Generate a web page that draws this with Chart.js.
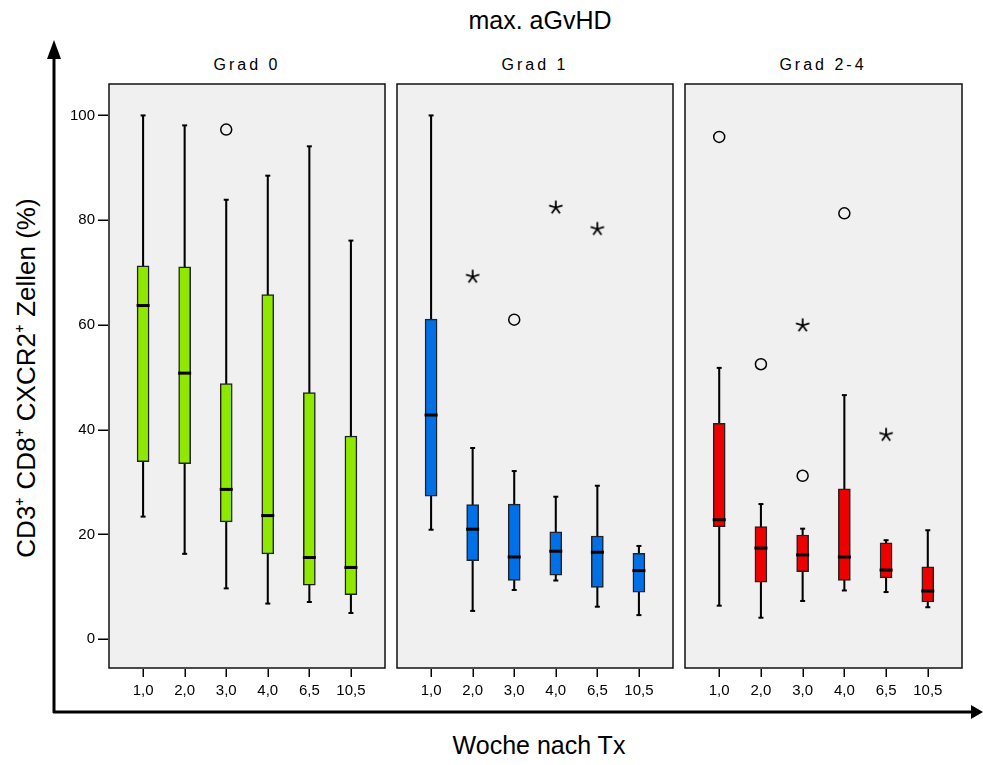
<!DOCTYPE html>
<html>
<head>
<meta charset="utf-8">
<script src="https://cdn.jsdelivr.net/npm/chart.js@4"></script>
<style>
  html, body { margin: 0; padding: 0; background: #fff; }
  body { width: 983px; height: 765px; position: relative; overflow: hidden; font-family: "Liberation Sans", Arial, Helvetica, sans-serif; }
  .cv { position: absolute; }
  .txt { position: absolute; color: #000; white-space: nowrap; }
  #title { left: 0; width: 1080px; top: 6px; text-align: center; font-size: 25px; }
  .ptitle { top: 56px; width: 276px; text-align: center; font-size: 16px; letter-spacing: 3px; }
  #xlabel { left: 0; width: 1078px; top: 731px; text-align: center; font-size: 25px; }
  #ylabel { left: 25px; top: 378px; font-size: 26px; transform: translate(-50%, -50%) rotate(-90deg); }
  svg { position: absolute; left: 0; top: 0; }
</style>
</head>
<body>
<div id="title" class="txt">max. aGvHD</div>
<div class="txt ptitle" style="left:109px">Grad 0</div>
<div class="txt ptitle" style="left:397px">Grad 1</div>
<div class="txt ptitle" style="left:685px">Grad 2-4</div>
<div id="xlabel" class="txt">Woche nach Tx</div>
<div id="ylabel" class="txt">CD3⁺ CD8⁺ CXCR2⁺ Zellen (%)</div>

<div class="cv" style="left:40px;top:74px;width:347px;height:630px"><canvas id="c0"></canvas></div>
<div class="cv" style="left:395px;top:74px;width:280px;height:630px"><canvas id="c1"></canvas></div>
<div class="cv" style="left:683px;top:74px;width:281px;height:630px"><canvas id="c2"></canvas></div>

<svg width="983" height="765">
  <line x1="54" y1="56" x2="54" y2="713" stroke="#000" stroke-width="3"/>
  <polygon points="54,40 47,59 61,59" fill="#000"/>
  <line x1="53" y1="712" x2="974" y2="712" stroke="#000" stroke-width="3"/>
  <polygon points="983,712 971,705 971,719" fill="#000"/>
</svg>

<script>
// ---- data ----
const categories = ['1,0', '2,0', '3,0', '4,0', '6,5', '10,5'];
const panelTitles = ['Grad 0', 'Grad 1', 'Grad 2-4'];
const yTickValues = [0, 20, 40, 60, 80, 100];

const grad0Min    = [23.4, 16.3, 9.7, 6.8, 7.1, 5.0];
const grad0Q1     = [33.9, 33.5, 22.4, 16.3, 10.3, 8.5];
const grad0Median = [63.7, 50.8, 28.6, 23.6, 15.6, 13.7];
const grad0Q3     = [71.3, 71.1, 48.8, 65.8, 47.1, 38.8];
const grad0Max    = [100, 98.1, 83.9, 88.5, 94.1, 76.1];
const grad0Circles = [[3, 97.3]];
const grad0Stars   = [];

const grad1Min    = [20.9, 5.4, 9.4, 11.2, 6.2, 4.6];
const grad1Q1     = [27.3, 15.0, 11.2, 12.2, 9.9, 9.0];
const grad1Median = [42.8, 21.0, 15.7, 16.8, 16.6, 13.1];
const grad1Q3     = [61.1, 25.7, 25.8, 20.5, 19.7, 16.4];
const grad1Max    = [100, 36.5, 32.1, 27.2, 29.3, 17.8];
const grad1Circles = [[3, 61.0]];
const grad1Stars   = [[2, 69.3], [4, 82.5], [5, 78.4]];

const grad2Min    = [6.4, 4.1, 7.3, 9.3, 9.0, 6.1];
const grad2Q1     = [21.5, 10.9, 12.9, 11.2, 11.7, 7.1];
const grad2Median = [22.8, 17.4, 16.1, 15.7, 13.2, 9.2];
const grad2Q3     = [41.2, 21.5, 19.9, 28.7, 18.4, 13.8];
const grad2Max    = [51.8, 25.8, 21.1, 46.6, 18.9, 20.8];
const grad2Circles = [[1, 95.9], [2, 52.5], [3, 31.2], [4, 81.3]];
const grad2Stars   = [[3, 60.0], [5, 39.1]];

const panelColors = ['#8ee800', '#0070e8', '#ee0000'];

// ---- helpers ----
function makeStar() {
  const c = document.createElement('canvas');
  c.width = 16; c.height = 16;
  const g = c.getContext('2d');
  g.strokeStyle = '#000'; g.lineWidth = 1.8;
  g.beginPath();
  for (let k = 0; k < 5; k++) {
    const a = -Math.PI / 2 + k * 2 * Math.PI / 5;
    g.moveTo(8, 8.5);
    g.lineTo(8 + 7 * Math.cos(a), 8.5 + 7 * Math.sin(a));
  }
  g.stroke();
  return c;
}
const starImg = makeStar();

function drawTickMarks(chart) {
  const a = chart.chartArea, ctx = chart.ctx;
  const sx = chart.scales.x, sy = chart.scales.y;
  ctx.save();
  ctx.setLineDash([]);
  ctx.globalAlpha = 1;
  ctx.strokeStyle = '#000';
  ctx.lineWidth = 1.5;
  ctx.beginPath();
  sx.ticks.forEach(t => {
    const px = Math.round(sx.getPixelForValue(t.value)) + 0.25;
    ctx.moveTo(px, a.bottom + 1); ctx.lineTo(px, a.bottom + 9);
  });
  if (sy.options.display) {
    sy.ticks.forEach(t => {
      const py = Math.round(sy.getPixelForValue(t.value)) + 0.25;
      ctx.moveTo(a.left - 11, py); ctx.lineTo(a.left - 1, py);
    });
  }
  ctx.stroke();
  ctx.restore();
}

const panelBg = {
  id: 'panelBg',
  beforeDraw(chart) {
    // drop any canvas state left over, so nothing stays clipped
    const ctx = chart.ctx;
    for (let i = 0; i < 60; i++) ctx.restore();
    ctx.save();
    ctx.setTransform(1, 0, 0, 1, 0, 0);
    ctx.clearRect(0, 0, chart.canvas.width, chart.canvas.height);
    ctx.restore();
  },
  beforeDatasetsDraw(chart) {
    const a = chart.chartArea, ctx = chart.ctx;
    ctx.save();
    ctx.fillStyle = '#f0f0f0';
    ctx.fillRect(a.left, a.top, a.right - a.left, a.bottom - a.top);
    ctx.strokeStyle = '#111';
    ctx.lineWidth = 1.5;
    ctx.strokeRect(a.left, a.top, a.right - a.left, a.bottom - a.top);
    ctx.restore();
    drawTickMarks(chart);
  }
};

function buildPanel(id, mins, q1s, meds, q3s, maxs, circles, stars, color, showY, padLeft, padRight) {
  const xs = categories.map((_, i) => i + 1);
  const ds = [
    { type: 'bar', order: 10, grouped: false, data: xs.map((x, i) => ({ x, y: [mins[i], maxs[i]] })),
      backgroundColor: '#000', borderWidth: 0, barThickness: 1.4 },
    { type: 'bar', order: 9, grouped: false, data: xs.map((x, i) => ({ x, y: [q1s[i], q3s[i]] })),
      backgroundColor: color, borderColor: '#222', borderWidth: 1.5, borderSkipped: false, barThickness: 12 },
    { type: 'scatter', order: 3, data: xs.map((x, i) => ({ x, y: mins[i] })),
      pointStyle: 'line', radius: 2.5, borderWidth: 2, borderColor: '#000' },
    { type: 'scatter', order: 3, data: xs.map((x, i) => ({ x, y: maxs[i] })),
      pointStyle: 'line', radius: 2.5, borderWidth: 2, borderColor: '#000' },
    { type: 'scatter', order: 2, data: xs.map((x, i) => ({ x, y: meds[i] })),
      pointStyle: 'line', radius: 6.5, borderWidth: 3, borderColor: '#000' },
    { type: 'scatter', order: 1, data: circles.map(p => ({ x: p[0], y: p[1] })),
      pointStyle: 'circle', radius: 5.5, borderWidth: 1.5, borderColor: '#000', backgroundColor: 'rgba(0,0,0,0)' },
    { type: 'scatter', order: 1, data: stars.map(p => ({ x: p[0], y: p[1] })),
      pointStyle: starImg, radius: 7 }
  ];
  return new Chart(document.getElementById(id), {
    type: 'bar',
    data: { datasets: ds },
    plugins: [panelBg],
    options: {
      responsive: true, maintainAspectRatio: false, animation: false,
      events: [],
      layout: { autoPadding: false, padding: { top: 10, left: padLeft, right: padRight, bottom: 0 } },
      plugins: { legend: { display: false }, tooltip: { enabled: false }, title: { display: false } },
      scales: {
        x: {
          type: 'linear', min: 0.18, max: 6.82, offset: false,
          afterBuildTicks: s => { s.ticks = xs.map(v => ({ value: v })); },
          afterFit: s => { s.height = 36; s.paddingLeft = 0; s.paddingRight = 0; },
          grid: { display: false, drawOnChartArea: false, drawTicks: false },
          border: { display: false },
          ticks: { padding: 14, color: '#000', font: { family: 'Liberation Sans, Arial', size: 15 },
            callback: v => categories[Math.round(v) - 1], maxRotation: 0, autoSkip: false }
        },
        y: {
          type: 'linear', min: -5.5, max: 106, display: showY,
          afterBuildTicks: s => { s.ticks = yTickValues.map(v => ({ value: v })); },
          afterFit: s => { if (showY) s.width = 69; s.paddingTop = 0; s.paddingBottom = 0; },
          grid: { display: false, drawOnChartArea: false, drawTicks: false },
          border: { display: false },
          ticks: { padding: 14, color: '#000', font: { family: 'Liberation Sans, Arial', size: 15 } }
        }
      }
    }
  });
}

buildPanel('c0', grad0Min, grad0Q1, grad0Median, grad0Q3, grad0Max, grad0Circles, grad0Stars, panelColors[0], true, 0, 2);
buildPanel('c1', grad1Min, grad1Q1, grad1Median, grad1Q3, grad1Max, grad1Circles, grad1Stars, panelColors[1], false, 2, 2);
buildPanel('c2', grad2Min, grad2Q1, grad2Median, grad2Q3, grad2Max, grad2Circles, grad2Stars, panelColors[2], false, 2, 2);
</script>
</body>
</html>
